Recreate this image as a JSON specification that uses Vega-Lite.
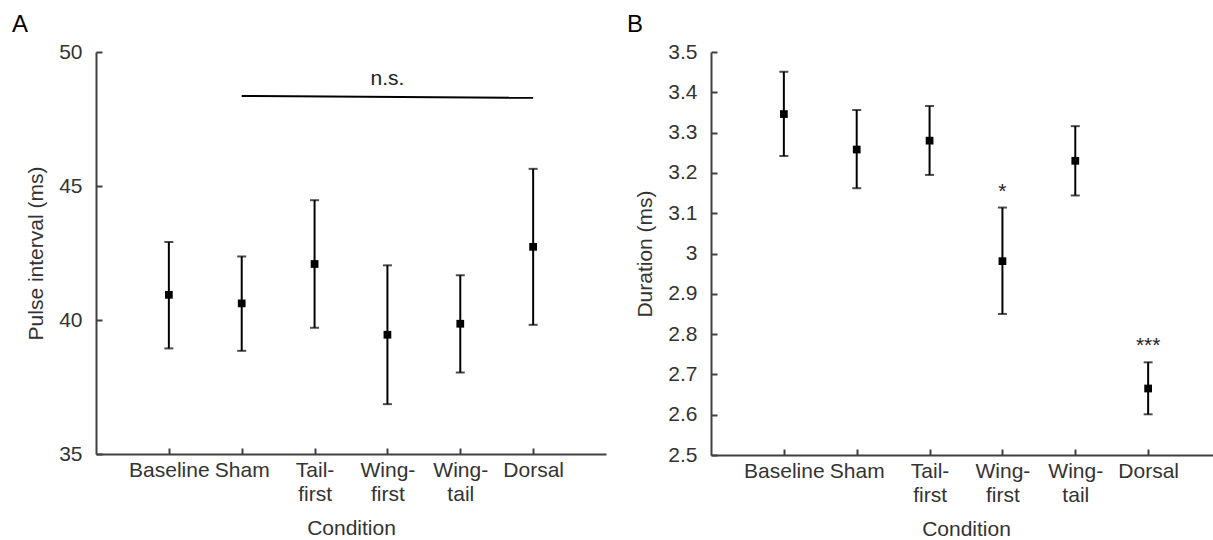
{
  "$schema": "https://vega.github.io/schema/vega-lite/v6.json",
  "padding": {"left": 12, "top": 13, "right": 0, "bottom": 0},
  "background": "white",
  "bounds": "flush",
  "spacing": 105,
  "datasets": {
    "pulse": [
      {"cond": "Baseline", "mean": 40.94, "lo": 38.94, "hi": 42.91},
      {"cond": "Sham", "mean": 40.62, "lo": 38.85, "hi": 42.37},
      {"cond": "Tail-first", "mean": 42.09, "lo": 39.71, "hi": 44.47},
      {"cond": "Wing-first", "mean": 39.45, "lo": 36.86, "hi": 42.04},
      {"cond": "Wing-tail", "mean": 39.86, "lo": 38.04, "hi": 41.67},
      {"cond": "Dorsal", "mean": 42.73, "lo": 39.82, "hi": 45.64}
    ],
    "duration": [
      {"cond": "Baseline", "mean": 3.346, "lo": 3.242, "hi": 3.451},
      {"cond": "Sham", "mean": 3.258, "lo": 3.162, "hi": 3.356},
      {"cond": "Tail-first", "mean": 3.280, "lo": 3.195, "hi": 3.366},
      {"cond": "Wing-first", "mean": 2.981, "lo": 2.850, "hi": 3.114},
      {"cond": "Wing-tail", "mean": 3.230, "lo": 3.144, "hi": 3.316},
      {"cond": "Dorsal", "mean": 2.665, "lo": 2.601, "hi": 2.730}
    ],
    "nsline": [
      {"cond": "Sham", "y": 48.36},
      {"cond": "Dorsal", "y": 48.29}
    ],
    "nstext": [
      {"cond": "Wing-first", "y": 48.77, "label": "n.s."}
    ],
    "stars": [
      {"cond": "Wing-first", "y": 3.137, "label": "*"},
      {"cond": "Dorsal", "y": 2.756, "label": "***"}
    ]
  },
  "hconcat": [
    {
      "width": 510,
      "height": 402,
      "title": {"text": "A", "anchor": "start", "frame": "group", "dx": -84, "offset": 4, "fontSize": 24, "fontWeight": "normal", "color": "#000"},
      "encoding": {
        "x": {"field": "cond", "type": "nominal", "title": "Condition",
          "scale": {"type": "point", "padding": 1, "domain": ["Baseline", "Sham", "Tail-first", "Wing-first", "Wing-tail", "Dorsal"]},
          "axis": {"labelAngle": 0, "labelExpr": "indexof(datum.label, '-') > 0 ? [slice(datum.label, 0, indexof(datum.label, '-') + 1), slice(datum.label, indexof(datum.label, '-') + 1)] : datum.label"}}
      },
      "layer": [
        {
          "data": {"name": "pulse"},
          "mark": {"type": "rule", "color": "#000", "strokeWidth": 2},
          "encoding": {
            "y": {"field": "lo", "type": "quantitative", "title": "Pulse interval (ms)",
              "scale": {"domain": [35, 50], "nice": false, "zero": false},
              "axis": {"values": [35, 40, 45, 50]}},
            "y2": {"field": "hi"}
          }
        },
        {
          "data": {"name": "pulse"},
          "mark": {"type": "tick", "color": "#000", "size": 9, "thickness": 2},
          "encoding": {"y": {"field": "lo", "type": "quantitative"}}
        },
        {
          "data": {"name": "pulse"},
          "mark": {"type": "tick", "color": "#000", "size": 9, "thickness": 2},
          "encoding": {"y": {"field": "hi", "type": "quantitative"}}
        },
        {
          "data": {"name": "pulse"},
          "mark": {"type": "point", "shape": "square", "filled": true, "color": "#000", "size": 60, "opacity": 1},
          "encoding": {"y": {"field": "mean", "type": "quantitative"}}
        },
        {
          "data": {"name": "nsline"},
          "mark": {"type": "line", "color": "#000", "strokeWidth": 2},
          "encoding": {"y": {"field": "y", "type": "quantitative"}}
        },
        {
          "data": {"name": "nstext"},
          "mark": {"type": "text", "fontSize": 21, "baseline": "alphabetic", "align": "center", "color": "#222"},
          "encoding": {"y": {"field": "y", "type": "quantitative"}, "text": {"field": "label"}}
        }
      ]
    },
    {
      "width": 510,
      "height": 403,
      "title": {"text": "B", "anchor": "start", "frame": "group", "dx": -84, "offset": 4, "fontSize": 24, "fontWeight": "normal", "color": "#000"},
      "encoding": {
        "x": {"field": "cond", "type": "nominal", "title": "Condition",
          "scale": {"type": "point", "padding": 1, "domain": ["Baseline", "Sham", "Tail-first", "Wing-first", "Wing-tail", "Dorsal"]},
          "axis": {"labelAngle": 0, "labelExpr": "indexof(datum.label, '-') > 0 ? [slice(datum.label, 0, indexof(datum.label, '-') + 1), slice(datum.label, indexof(datum.label, '-') + 1)] : datum.label"}}
      },
      "layer": [
        {
          "data": {"name": "duration"},
          "mark": {"type": "rule", "color": "#000", "strokeWidth": 2},
          "encoding": {
            "y": {"field": "lo", "type": "quantitative", "title": "Duration (ms)",
              "scale": {"domain": [2.5, 3.5], "nice": false, "zero": false},
              "axis": {"values": [2.5, 2.6, 2.7, 2.8, 2.9, 3, 3.1, 3.2, 3.3, 3.4, 3.5], "format": "~g"}},
            "y2": {"field": "hi"}
          }
        },
        {
          "data": {"name": "duration"},
          "mark": {"type": "tick", "color": "#000", "size": 9, "thickness": 2},
          "encoding": {"y": {"field": "lo", "type": "quantitative"}}
        },
        {
          "data": {"name": "duration"},
          "mark": {"type": "tick", "color": "#000", "size": 9, "thickness": 2},
          "encoding": {"y": {"field": "hi", "type": "quantitative"}}
        },
        {
          "data": {"name": "duration"},
          "mark": {"type": "point", "shape": "square", "filled": true, "color": "#000", "size": 60, "opacity": 1},
          "encoding": {"y": {"field": "mean", "type": "quantitative"}}
        },
        {
          "data": {"name": "stars"},
          "mark": {"type": "text", "fontSize": 21, "baseline": "alphabetic", "align": "center", "color": "#222"},
          "encoding": {"y": {"field": "y", "type": "quantitative"}, "text": {"field": "label"}}
        }
      ]
    }
  ],
  "config": {
    "font": "Liberation Sans",
    "view": {"stroke": null},
    "axis": {
      "grid": false,
      "domainColor": "#404040",
      "domainWidth": 2,
      "tickColor": "#404040",
      "tickWidth": 2,
      "tickSize": -6,
      "labelFontSize": 21,
      "labelColor": "#333",
      "labelOverlap": false,
      "labelBound": false,
      "labelLineHeight": 24,
      "titleFontSize": 21,
      "titleFontWeight": "normal",
      "titleColor": "#333"
    },
    "axisX": {"titlePadding": 13, "labelPadding": 11},
    "axisY": {"titlePadding": 12, "labelPadding": 20}
  }
}
